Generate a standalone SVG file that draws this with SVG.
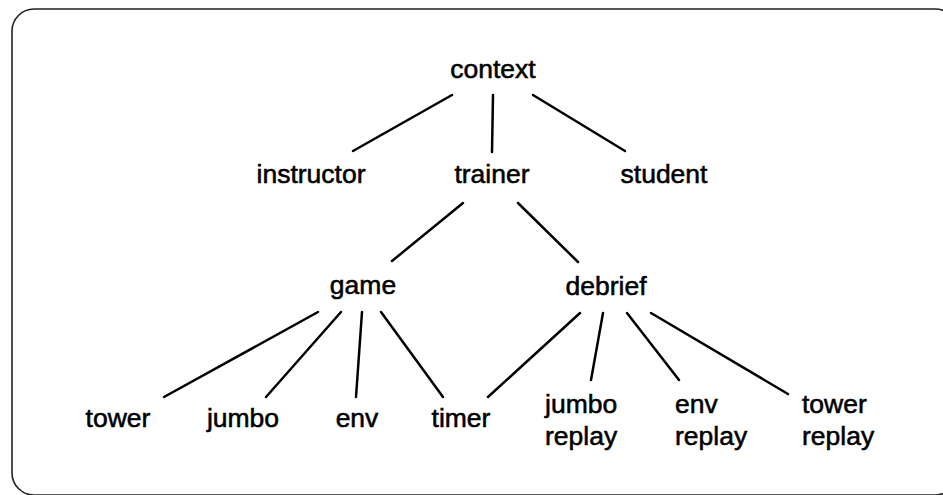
<svg xmlns="http://www.w3.org/2000/svg" width="943" height="495" viewBox="0 0 943 495">
  <style>
    .lbl { font-family: "Liberation Sans", Arial, Helvetica, sans-serif; font-size: 26.5px; fill: #000; stroke: #000; stroke-width: 0.55; }
    .mid { text-anchor: middle; }
    .edge { stroke: #000; stroke-width: 2.5; stroke-linecap: round; fill: none; }
    .frame { stroke: #222; stroke-width: 1.6; fill: none; }
  </style>
  <rect width="943" height="495" fill="#fff"/>
  <rect class="frame" x="12" y="9" width="945" height="486" rx="22" ry="22"/>

  <g id="connectors">
    <line class="edge" x1="452" y1="95" x2="353" y2="151"/>
    <line class="edge" x1="493" y1="95" x2="492" y2="152"/>
    <line class="edge" x1="533" y1="95" x2="625" y2="151"/>
    <line class="edge" x1="463" y1="203" x2="392" y2="261"/>
    <line class="edge" x1="518" y1="203" x2="578" y2="262"/>
    <line class="edge" x1="318" y1="312" x2="164" y2="397"/>
    <line class="edge" x1="341" y1="312" x2="266" y2="397"/>
    <line class="edge" x1="362" y1="312" x2="356" y2="397"/>
    <line class="edge" x1="381" y1="312" x2="443" y2="397"/>
    <line class="edge" x1="580" y1="313" x2="488" y2="397"/>
    <line class="edge" x1="603" y1="313" x2="591" y2="380"/>
    <line class="edge" x1="627" y1="313" x2="679" y2="380"/>
    <line class="edge" x1="651" y1="313" x2="788" y2="394"/>
  </g>

  <g id="context"><text class="lbl mid" x="493" y="78">context</text></g>
  <g id="instructor"><text class="lbl mid" x="311" y="183">instructor</text></g>
  <g id="trainer"><text class="lbl mid" x="492" y="183">trainer</text></g>
  <g id="student"><text class="lbl mid" x="664" y="183">student</text></g>
  <g id="game"><text class="lbl mid" x="363" y="294">game</text></g>
  <g id="debrief"><text class="lbl mid" x="606" y="295">debrief</text></g>
  <g id="tower"><text class="lbl mid" x="118" y="427">tower</text></g>
  <g id="jumbo"><text class="lbl mid" x="243" y="427">jumbo</text></g>
  <g id="env"><text class="lbl mid" x="357" y="427">env</text></g>
  <g id="timer"><text class="lbl mid" x="461" y="427">timer</text></g>
  <g id="jumbo-replay"><text class="lbl" x="545" y="413">jumbo<tspan x="545" y="445">replay</tspan></text></g>
  <g id="env-replay"><text class="lbl" x="675" y="413">env<tspan x="675" y="445">replay</tspan></text></g>
  <g id="tower-replay"><text class="lbl" x="802" y="413">tower<tspan x="802" y="445">replay</tspan></text></g>
</svg>
